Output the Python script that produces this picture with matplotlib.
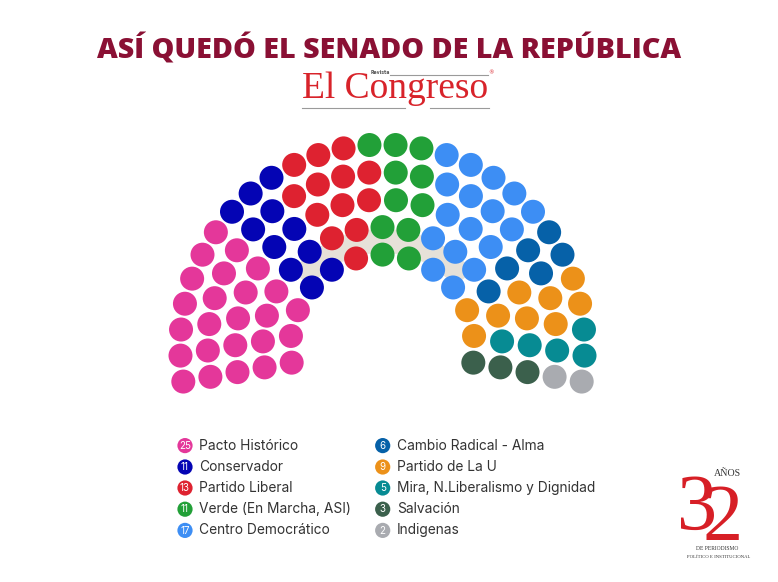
import numpy as np
import matplotlib
matplotlib.use('Agg')
import matplotlib.pyplot as plt
from matplotlib.patches import Circle, Wedge

# ---------------- data ----------------
parties = ["Pacto Histórico", "Conservador", "Partido Liberal",
           "Verde (En Marcha, ASI)", "Centro Democrático",
           "Cambio Radical - Alma", "Partido de La U",
           "Mira, N.Liberalismo y Dignidad", "Salvación", "Indigenas"]
seats = [25, 11, 13, 11, 17, 6, 9, 5, 3, 2]
colors = ["#e4379a", "#0404b4", "#de2230", "#22a038", "#3d8ef4",
          "#0661a8", "#ec9119", "#078b93", "#3b604c", "#a9abb0"]

title = "ASÍ QUEDÓ EL SENADO DE LA REPÚBLICA"

# ---------------- figure ----------------
W, H = 778, 582
fig = plt.figure(figsize=(W / 100, H / 100), dpi=100)
ax = fig.add_axes([0, 0, 1, 1])
ax.set_xlim(0, W)
ax.set_ylim(0, H)
ax.axis('off')


def Y(py):
    return H - py


# ---------------- parliament layout ----------------
cx, cy = 382.5, Y(346.8)
n_rows = 5
r_in, r_out = 92.2, 202.2
radii = np.linspace(r_in, r_out, n_rows)
total = sum(seats)
raw = total * radii / radii.sum()
counts = np.floor(raw).astype(int)
rem = total - counts.sum()
order = np.argsort(-(raw - counts))
counts[order[:rem]] += 1

a0, a1 = np.deg2rad(189.9), np.deg2rad(-9.9)
pos = []
for r, n in zip(radii, counts):
    for ang in np.linspace(a0, a1, n):
        pos.append((ang, r))
pos.sort(key=lambda p: (-round(p[0], 9), p[1]))

seat_colors = []
for c, n in zip(colors, seats):
    seat_colors += [c] * n

# beige band behind inner rows
ax.add_patch(Wedge((cx, cy), 118, 40, 140, width=24, fc="#e6e1d8",
                   ec="none", zorder=1))

for (ang, r), c in zip(pos, seat_colors):
    ax.add_patch(Circle((cx + r * np.cos(ang), cy + r * np.sin(ang)), 12,
                        fc=c, ec="none", zorder=2))

# ---------------- title ----------------
ax.text(389, Y(58.3), title, ha="center", va="baseline",
        fontsize=20.6, fontweight=800, family="Open Sans", color="#8a1034")

# ---------------- El Congreso logo ----------------
ax.text(302, Y(98.5), "El Congreso", ha="left", va="baseline",
        fontsize=27, family="Liberation Serif", color="#d8232a")
ax.text(371, Y(72.5), "Revista", ha="left", va="center", fontsize=3.3,
        fontweight="bold", color="#555555")
ax.plot([390, 488], [Y(75), Y(75)], color="#9a9a9a", lw=0.8)
ax.plot([302, 405], [Y(107.7), Y(107.7)], color="#9a9a9a", lw=0.8)
ax.plot([430, 489], [Y(107.7), Y(107.7)], color="#9a9a9a", lw=0.8)
ax.text(491, Y(73), "®", ha="center", va="center", fontsize=4,
        color="#d8232a")

# ---------------- legend ----------------
col_x = [(185, 199.3), (382.7, 396.7)]
row_y = [445.6, 467.0, 488.0, 509.2, 530.4]
for i, (name, n, c) in enumerate(zip(parties, seats, colors)):
    col, row = divmod(i, 5)
    xc, xt = col_x[col]
    yy = Y(row_y[row])
    ax.add_patch(Circle((xc, yy), 7.6, fc=c, ec="none"))
    ax.text(xc, yy - 0.3, str(n), ha="center", va="center", fontsize=7,
            color="white", family="Inter")
    ax.text(xt, yy, name, ha="left", va="center", fontsize=9.9,
            family="Inter", color="#333333")

# ---------------- 32 años logo ----------------
ax.text(697, Y(530), "3", ha="center", va="baseline", fontsize=58,
        family="Liberation Serif", color="#d71f26")
ax.text(723, Y(540), "2", ha="center", va="baseline", fontsize=58,
        family="Liberation Serif", color="#d71f26")
ax.text(727, Y(474), "AÑOS", ha="center", va="center", fontsize=7.2,
        family="Liberation Serif", color="#333333")
ax.text(717, Y(549), "DE PERIODISMO", ha="center", va="center",
        fontsize=4.0, family="Liberation Serif", color="#333333")
ax.text(719, Y(557), "POLÍTICO E INSTITUCIONAL", ha="center", va="center",
        fontsize=3.4, family="Liberation Serif", color="#333333")

fig.savefig("out.png", dpi=100)
